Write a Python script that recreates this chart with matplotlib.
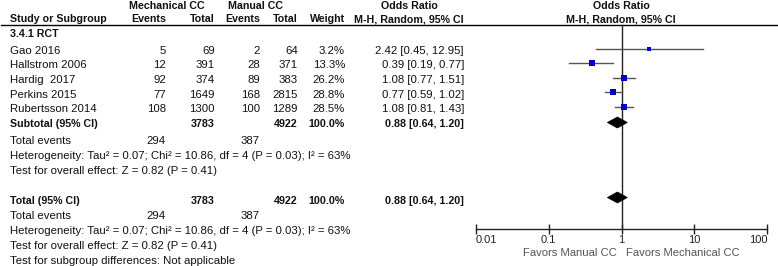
import numpy as np
import matplotlib
matplotlib.use("Agg")
import matplotlib.pyplot as plt
from matplotlib.patches import Polygon

# ---------------- data ----------------
studies = ["Gao 2016", "Hallstrom 2006", "Hardig  2017", "Perkins 2015", "Rubertsson 2014"]
mech_events = [5, 12, 92, 77, 108]
mech_total = [69, 391, 374, 1649, 1300]
man_events = [2, 28, 89, 168, 100]
man_total = [64, 371, 383, 2815, 1289]
weights = [3.2, 13.3, 26.2, 28.8, 28.5]
odds = [2.42, 0.39, 1.08, 0.77, 1.08]
ci_low = [0.45, 0.19, 0.77, 0.59, 0.81]
ci_high = [12.95, 0.77, 1.51, 1.02, 1.43]

sub_or, sub_lo, sub_hi = 0.88, 0.64, 1.20
tot_mech, tot_man = 3783, 4922
ev_mech, ev_man = 294, 387
het_text = "Heterogeneity: Tau\u00b2 = 0.07; Chi\u00b2 = 10.86, df = 4 (P = 0.03); I\u00b2 = 63%"
eff_text = "Test for overall effect: Z = 0.82 (P = 0.41)"
tick_vals = [0.01, 0.1, 1, 10, 100]
tick_labels = ["0.01", "0.1", "1", "10", "100"]

# ---------------- layout ----------------
W, H = 778, 266
plt.rcParams['font.family'] = ['Liberation Sans', 'DejaVu Sans']
FS = 8.2
FSB = 7.7
fig = plt.figure(figsize=(W / 100, H / 100), dpi=100)
ax = fig.add_axes([0, 0, 1, 1])
ax.set_xlim(0, W)
ax.set_ylim(H, 0)
ax.axis('off')

TXT = '#111111'

def t(x, y, s, ha='left', bold=False, color=TXT):
    ax.text(x, y, s, ha=ha, va='center', fontsize=FSB if bold else FS,
            fontweight='bold' if bold else 'normal', color=color)

# columns (right edges)
X_NAME, X_EV1, X_TOT1, X_EV2, X_TOT2, X_W, X_CI = 10, 166, 215, 260, 298, 345, 464

# header
t(167, 6, "Mechanical CC", ha='center', bold=True)
t(256, 6, "Manual CC", ha='center', bold=True)
t(409, 6, "Odds Ratio", ha='center', bold=True)
t(621, 6, "Odds Ratio", ha='center', bold=True)
y_h2 = 19
t(X_NAME, y_h2, "Study or Subgroup", bold=True)
t(X_EV1, y_h2, "Events", ha='right', bold=True)
t(X_TOT1, y_h2, "Total", ha='right', bold=True)
t(X_EV2, y_h2, "Events", ha='right', bold=True)
t(X_TOT2, y_h2, "Total", ha='right', bold=True)
t(X_W, y_h2, "Weight", ha='right', bold=True)
t(X_CI, y_h2, "M-H, Random, 95% CI", ha='right', bold=True)
t(621, y_h2, "M-H, Random, 95% CI", ha='center', bold=True)
ax.plot([1, W], [24.5, 24.5], color='black', lw=1.0)

t(X_NAME, 34.3, "3.4.1 RCT", bold=True)

study_y = [51, 65.5, 80, 94.5, 109]
for i, y in enumerate(study_y):
    t(X_NAME, y, studies[i])
    t(X_EV1, y, str(mech_events[i]), ha='right')
    t(X_TOT1, y, str(mech_total[i]), ha='right')
    t(X_EV2, y, str(man_events[i]), ha='right')
    t(X_TOT2, y, str(man_total[i]), ha='right')
    t(X_W, y, f"{weights[i]:.1f}%", ha='right')
    t(X_CI, y, f"{odds[i]:.2f} [{ci_low[i]:.2f}, {ci_high[i]:.2f}]", ha='right')

sum_w = sum(weights)

def summary_row(y, label):
    t(X_NAME, y, label, bold=True)
    t(X_TOT1, y, str(tot_mech), ha='right', bold=True)
    t(X_TOT2, y, str(tot_man), ha='right', bold=True)
    t(X_W, y, f"{sum_w:.1f}%", ha='right', bold=True)
    t(X_CI, y, f"{sub_or:.2f} [{sub_lo:.2f}, {sub_hi:.2f}]", ha='right', bold=True)

def info_rows(y0):
    t(X_NAME, y0, "Total events")
    t(X_EV1, y0, str(ev_mech), ha='right')
    t(X_EV2, y0, str(ev_man), ha='right')
    t(X_NAME, y0 + 15.3, het_text)
    t(X_NAME, y0 + 30.3, eff_text)

summary_row(124, "Subtotal (95% CI)")
info_rows(140.7)
summary_row(201, "Total (95% CI)")
info_rows(215.7)
t(X_NAME, 261.5, "Test for subgroup differences: Not applicable")

# ---------------- forest panel ----------------
x0, x1 = 475.7, 767.3
fax = fig.add_axes([x0 / W, 0, (x1 - x0) / W, 1])
fax.set_xscale('log')
fax.set_xlim(0.01, 100)
fax.set_ylim(H, 0)
fax.patch.set_alpha(0)
for s in ['top', 'left', 'right']:
    fax.spines[s].set_visible(False)
AXY = 228.5
fax.spines['bottom'].set_position(('data', AXY))
fax.spines['bottom'].set_color('#222222')
fax.spines['bottom'].set_linewidth(1.0)
fax.set_yticks([])
fax.set_xticks(tick_vals)
fax.set_xticks([], minor=True)
fax.set_xticklabels(tick_labels)
fax.tick_params(axis='x', direction='inout', length=7, width=1.0, color='#222222',
                labelsize=8.0, labelcolor='#222222', pad=1.3)
labs = fax.get_xticklabels()
labs[0].set_ha('left')
labs[-1].set_ha('right')

# null line
fax.plot([1, 1], [24.5, AXY], color='#222222', lw=1.0)

mark_y = [y - 2.5 for y in study_y]
for i, y in enumerate(mark_y):
    fax.plot([ci_low[i], ci_high[i]], [y, y], color='#555555', lw=1.0, zorder=2)
    side = 2.2 + 0.8 * np.sqrt(weights[i])
    fax.plot([odds[i]], [y], marker='s', ms=side * 0.72, color='#0000c8',
             mec='#0000c8', mew=0, zorder=3)

def diamond(y, lo, mid, hi, h=5.5):
    p = Polygon([[lo, y], [mid, y - h], [hi, y], [mid, y + h]], closed=True,
                facecolor='black', edgecolor='black', lw=0.5, zorder=4)
    fax.add_patch(p)

diamond(122.5, sub_lo, sub_or, sub_hi)
diamond(197.5, sub_lo, sub_or, sub_hi)

fax.text(0.855, 252.5, "Favors Manual CC", ha='right', va='center', fontsize=8.1, color='#555555')
fax.text(1.17, 252.5, "Favors Mechanical CC", ha='left', va='center', fontsize=8.1, color='#555555')

fig.savefig("out.png", dpi=100)
